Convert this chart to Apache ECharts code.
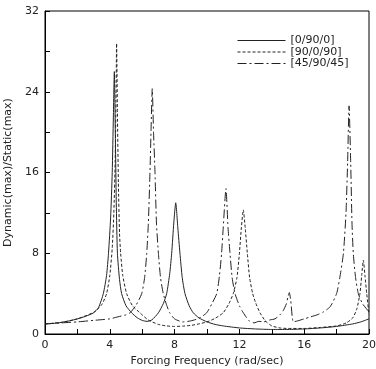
<!DOCTYPE html>
<html>
<head>
<meta charset="utf-8">
<script src="https://cdn.jsdelivr.net/npm/echarts@6/dist/echarts.min.js"></script>
<style>
  html, body { margin: 0; padding: 0; background: #fff; }
  #chart { width: 376px; height: 369px; }
</style>
</head>
<body>
<div id="chart"></div>
<script>
// [0/90/0] - solid
const solidX = [0, 0.5, 1, 1.5, 2, 2.5, 3, 3.3, 3.6, 3.8, 3.92, 4.05, 4.15, 4.22, 4.28, 4.34, 4.4, 4.47, 4.6, 4.73, 5.0, 5.35, 5.7, 6.0, 6.3, 6.6, 7.0, 7.3, 7.51, 7.7, 7.82, 7.95, 8.07, 8.2, 8.33, 8.47, 8.64, 8.9, 9.15, 9.5, 10, 10.5, 11, 12, 13, 14, 15, 16, 17, 18, 19, 19.5, 20]
const solidY = [1.0, 1.05, 1.15, 1.3, 1.5, 1.75, 2.1, 2.6, 4.0, 5.8, 8.0, 11.5, 16, 21.5, 26.0, 20, 13, 8.0, 5.4, 4.0, 2.8, 2.1, 1.6, 1.35, 1.25, 1.4, 2.1, 3.0, 4.0, 6.0, 8.0, 11, 13.0, 10.5, 8.0, 5.6, 4.0, 2.8, 2.1, 1.6, 1.2, 0.95, 0.8, 0.6, 0.5, 0.45, 0.45, 0.5, 0.6, 0.75, 1.0, 1.2, 1.5]

// [90/0/90] - dashed
const dashX = [0, 1, 2, 3, 3.5, 3.8, 4.0, 4.15, 4.25, 4.33, 4.38, 4.42, 4.47, 4.53, 4.6, 4.67, 4.8, 5.04, 5.4, 5.86, 6.36, 7, 7.5, 8, 8.5, 9, 9.5, 10, 10.5, 11, 11.35, 11.62, 11.85, 12.0, 12.12, 12.24, 12.36, 12.49, 12.63, 12.82, 13.0, 13.27, 13.6, 14, 14.5, 15, 16, 17, 18, 18.6, 19.0, 19.25, 19.44, 19.55, 19.65, 19.75, 19.86, 20]
const dashY = [1.0, 1.15, 1.5, 2.15, 2.9, 4.0, 5.8, 8.5, 12, 17, 23, 28.8, 22, 15, 10, 8.0, 5.8, 4.0, 2.8, 2.1, 1.4, 0.95, 0.8, 0.75, 0.78, 0.85, 1.0, 1.2, 1.55, 2.1, 3.0, 4.0, 5.6, 8.0, 10.5, 12.3, 10.5, 8.0, 5.6, 4.0, 3.1, 2.1, 1.3, 0.8, 0.6, 0.55, 0.55, 0.65, 0.8, 1.1, 1.6, 2.5, 4.0, 5.8, 7.3, 5.8, 4.0, 1.9]

// [45/90/45] - dash-dot
const dotX = [0, 1, 2, 3, 4, 4.5, 5, 5.25, 5.6, 5.97, 6.15, 6.28, 6.38, 6.48, 6.55, 6.62, 6.7, 6.79, 6.88, 7.0, 7.13, 7.3, 7.5, 7.7, 8.0, 8.5, 9.0, 9.5, 9.98, 10.3, 10.6, 10.77, 10.9, 11.0, 11.17, 11.3, 11.42, 11.55, 11.73, 12.0, 12.24, 12.6, 12.9, 13.2, 13.5, 13.9, 14.2, 14.5, 14.7, 14.9, 15.0, 15.08, 15.17, 15.33, 15.6, 16, 16.4, 16.8, 17.2, 17.6, 18.0, 18.2, 18.42, 18.58, 18.68, 18.77, 18.87, 18.95, 19.03, 19.17, 19.34, 19.6, 20]
const dotY = [1.0, 1.1, 1.2, 1.35, 1.5, 1.7, 1.9, 2.1, 2.8, 4.0, 5.6, 8.0, 11, 16, 20.5, 24.3, 20, 16, 11, 8.0, 5.6, 4.0, 2.9, 2.1, 1.5, 1.2, 1.3, 1.55, 2.1, 3.0, 4.0, 5.8, 8.0, 10.5, 14.4, 10.5, 8.0, 5.6, 4.0, 2.8, 2.1, 1.3, 1.1, 1.25, 1.2, 1.4, 1.5, 1.9, 2.3, 3.0, 3.7, 4.1, 3.3, 1.2, 1.3, 1.5, 1.7, 1.9, 2.2, 2.7, 4.0, 5.6, 8.0, 12, 17, 22.6, 17, 11, 8.0, 5.6, 4.0, 3.0, 2.2]

const seriesNames = ['[0/90/0]', '[90/0/90]', '[45/90/45]']

const pairs = (xs, ys) => xs.map((x, i) => [x, ys[i]])

const chart = echarts.init(document.getElementById('chart'))
const font = 'DejaVu Sans'
const axisCommon = {
    axisLine: { show: true, onZero: false, lineStyle: { color: '#000', width: 1 } },
    axisTick: { show: true, inside: true, length: 5, lineStyle: { color: '#000' } },
    minorTick: { show: true, splitNumber: 2, length: 5, lineStyle: { color: '#000' } },
    splitLine: { show: false },
    axisLabel: { color: '#222', fontFamily: font, fontSize: 11, margin: 6 },
    nameTextStyle: { color: '#222', fontFamily: font, fontSize: 11 },
}

const lineSeries = (name, data, type) => ({
    name,
    type: 'line',
    data,
    showSymbol: false,
    symbol: 'none',
    smooth: 0.2,
    lineStyle: { color: '#222', width: 1, type },
    itemStyle: { color: '#222' },
})

chart.setOption({
    animation: false,
    grid: {
        left: 45, right: 7, top: 11, bottom: 35,
        outerBoundsMode: 'none',
        show: true, borderColor: '#000', borderWidth: 1,
    },
    legend: {
        orient: 'vertical',
        left: 232,
        top: 30,
        itemWidth: 48,
        itemHeight: 13,
        itemGap: 0.5,
        itemStyle: { opacity: 0 },
        lineStyle: { width: 1 },
        textStyle: { color: '#222', fontFamily: font, fontSize: 11 },
        data: seriesNames,
    },
    xAxis: {
        ...axisCommon,
        type: 'value',
        min: 0,
        max: 20,
        interval: 4,
        name: 'Forcing Frequency (rad/sec)',
        nameLocation: 'middle',
        nameGap: 18,
    },
    yAxis: {
        ...axisCommon,
        type: 'value',
        min: 0,
        max: 32,
        interval: 8,
        name: 'Dynamic(max)/Static(max)',
        nameLocation: 'middle',
        nameGap: 25,
    },
    series: [
        lineSeries(seriesNames[0], pairs(solidX, solidY), 'solid'),
        lineSeries(seriesNames[1], pairs(dashX, dashY), [3, 2]),
        lineSeries(seriesNames[2], pairs(dotX, dotY), [9, 3, 2, 3]),
    ],
})
</script>
</body>
</html>
